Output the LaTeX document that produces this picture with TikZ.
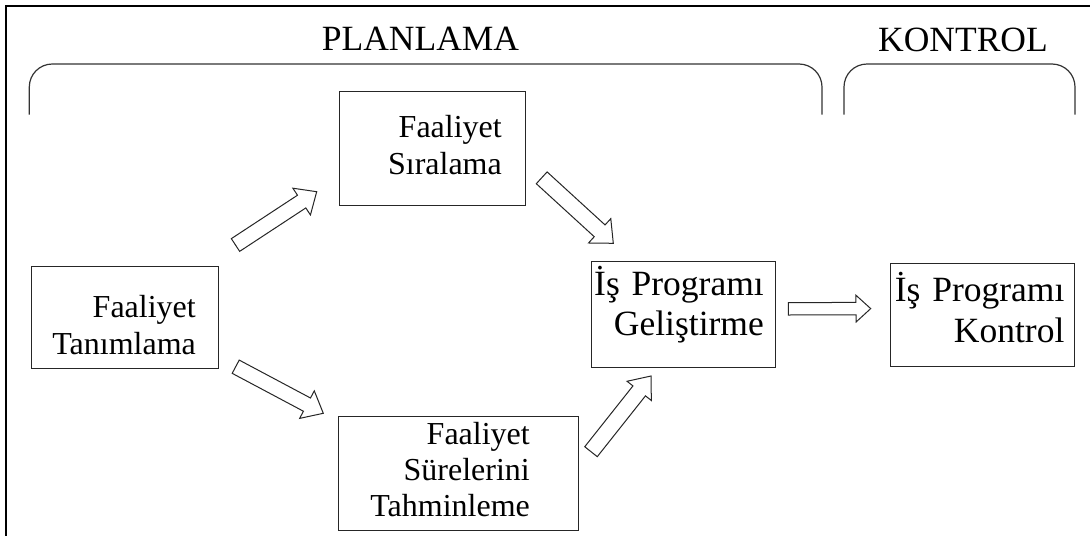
\documentclass[tikz,border=0pt]{standalone}
\usepackage{fontspec}
\setmainfont{Liberation Serif}
\usetikzlibrary{calc}

% outlined block arrow from #1 (tail) to #2 (tip):
% #3 half shaft width, #4 half head width, #5 head length
\newcommand\blockarrow[5]{%
  \coordinate (ba-base) at ($(#2)!#5!(#1)$);
  \draw[arrowline]
    ($(#1)!#3!90:(#2)$) -- ($(ba-base)!#3!90:(#2)$) -- ($(ba-base)!#4!90:(#2)$)
    -- (#2)
    -- ($(ba-base)!#4!-90:(#2)$) -- ($(ba-base)!#3!-90:(#2)$) -- ($(#1)!#3!-90:(#2)$)
    -- cycle;
}

\begin{document}
\begin{tikzpicture}[x=1pt,y=-1pt,
  stagebox/.style={draw=black!85, line width=1pt, rectangle, inner sep=0pt},
  arrowline/.style={draw=black!85, line width=1pt, line join=miter, fill=white},
  bracket/.style={draw=black!80, line width=1.2pt, rounded corners=23pt},
  frameline/.style={draw=black, line width=2pt},
  smalltxt/.style={font=\fontsize{32}{37}\selectfont, text width=260pt, align=right, inner sep=0pt, anchor=base east},
  bigtxt/.style={font=\fontsize{35.5}{40}\selectfont, text width=260pt, align=right, inner sep=0pt, anchor=base east},
  headtxt/.style={font=\fontsize{35.5}{40}\selectfont, inner sep=0pt, anchor=base}]

\useasboundingbox (0,0) rectangle (1090,536);

% page frame (top and left edges)
\draw[frameline] (1090,5.8) -- (6.3,5.8) -- (6.3,536);

% phase headings and their brackets
\node[headtxt] (plan) at (420.5,50.4) {PLANLAMA};
\node[headtxt] (kont) at (963,51) {KONTROL};
\draw[bracket] (29.3,114.5) -- (29.3,64) -- (822,64) -- (822,114.5);
\draw[bracket] (844,114.5) -- (844,64) -- (1075,64) -- (1075,114.5);

% activity boxes
\node[stagebox, minimum width=187pt, minimum height=102pt] (tanim) at (124.5,317) {};
\node[stagebox, minimum width=186.5pt, minimum height=114pt] (sira) at (432.25,148) {};
\node[stagebox, minimum width=240pt, minimum height=114pt] (sure) at (458,473) {};
\node[stagebox, minimum width=184pt, minimum height=106pt] (gelis) at (683,314) {};
\node[stagebox, minimum width=184pt, minimum height=103pt] (ktrl) at (982,314.5) {};

% box labels
\node[smalltxt] (tanimtxt) at (196,317.4) {Faaliyet\\Tanımlama};
\node[smalltxt] (siratxt) at (502,137.3) {Faaliyet\\Sıralama};
\node[smalltxt, font=\fontsize{32}{36}\selectfont] (suretxt) at (530,444.2) {Faaliyet\\Sürelerini\\Tahminleme};
\node[bigtxt] (gelistxt) at (764,295.8) {İş Programı\\Geliştirme};
\node[bigtxt, font=\fontsize{35.5}{41.4}\selectfont] (ktrltxt) at (1064.6,301) {İş Programı\\Kontrol};

% arrow end points
\coordinate (a1t) at (235.5,245);   \coordinate (a1h) at (316.7,191.7);
\coordinate (a2t) at (541.7,177.8); \coordinate (a2h) at (613.3,243.3);
\coordinate (a3t) at (235.7,366.7); \coordinate (a3h) at (323.3,413.3);
\coordinate (a4t) at (591,451.7);   \coordinate (a4h) at (651,376);
\coordinate (a5t) at (788.3,308.8); \coordinate (a5h) at (870.7,308.6);

% flow arrows
\blockarrow{a1t}{a1h}{7.6pt}{16pt}{18pt}
\blockarrow{a2t}{a2h}{8pt}{16.5pt}{18.5pt}
\blockarrow{a3t}{a3h}{7.5pt}{15.6pt}{18.5pt}
\blockarrow{a4t}{a4h}{8pt}{15.5pt}{19pt}
\blockarrow{a5t}{a5h}{6.2pt}{13.4pt}{14.7pt}

\end{tikzpicture}
\end{document}
